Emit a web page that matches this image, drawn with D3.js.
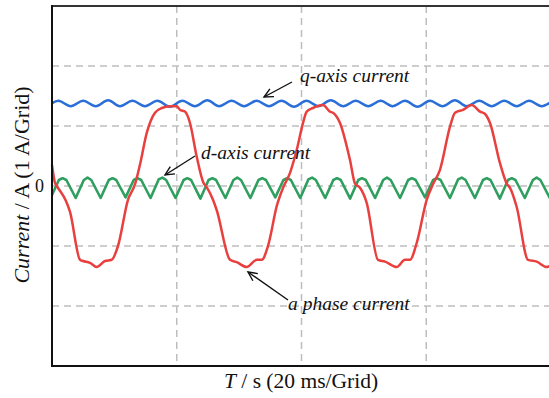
<!DOCTYPE html>
<html>
<head>
<meta charset="utf-8">
<script src="https://cdn.jsdelivr.net/npm/d3@7"></script>
<style>
  html, body { margin: 0; padding: 0; background: #fff; }
  svg { display: block; }
  text { font-family: "Liberation Serif", "DejaVu Serif", serif; fill: #111; }
</style>
</head>
<body>
<svg id="chart" width="549" height="398"></svg>
<script>
// ---------------- DATA (time in ms, current in A) ----------------
const xGridTicks = [20, 40, 60];
const yGridTicks = [-2, -1, 0, 1, 2];
const yTickLabels = [{ v: 0, label: "0" }];

const aPhaseCurrent = [
  [0,0.35],[0.48,0.05],[0.96,-0.03],[2.24,-0.25],[2.89,-0.43],[4.49,-1.23],[4.97,-1.25],[6.09,-1.28],
  [7.17,-1.35],[8.50,-1.25],[9.57,-1.23],[10.58,-1.00],[12.18,-0.23],[13.31,0.03],[14.11,0.36],
  [15.18,0.88],[16.51,1.22],[17.59,1.30],[18.92,1.33],[19.99,1.33],[20.52,1.27],[21.32,1.24],
  [22.12,1.05],[23.20,0.49],[24.26,0.06],[24.80,-0.02],[25.81,-0.23],[26.40,-0.40],[28.54,-1.23],
  [29.61,-1.27],[31.22,-1.35],[32.82,-1.23],[33.62,-1.23],[34.63,-1.00],[36.07,-0.32],[37.08,-0.02],
  [38.16,0.22],[39.23,0.60],[40.29,1.07],[40.83,1.24],[41.84,1.30],[43.45,1.35],[44.57,1.24],
  [45.05,1.22],[46.17,1.05],[47.78,0.43],[48.58,0.04],[49.38,-0.03],[50.45,-0.28],[52.26,-1.23],
  [53.39,-1.26],[55.26,-1.35],[56.59,-1.23],[57.39,-1.23],[58.47,-0.95],[60.07,-0.23],[61.08,0.03],
  [62.20,0.27],[63.81,0.99],[64.61,1.22],[65.89,1.27],[67.29,1.35],[68.62,1.24],[69.42,1.20],
  [70.22,1.05],[71.82,0.38],[72.90,0.04],[73.43,-0.03],[74.50,-0.35],[76.31,-1.23],[77.71,-1.26],
  [79.31,-1.35],[80.0,-1.32]
];

const qAxisCurrent = [
  [0,1.38],[1.0,1.42],[3.0,1.33],[5.0,1.42],[7.0,1.33],[9.0,1.43],[10.9,1.33],[12.9,1.42],
  [14.9,1.33],[16.9,1.42],[18.9,1.32],[20.9,1.42],[22.9,1.33],[24.9,1.43],[26.8,1.33],[28.8,1.42],
  [30.8,1.33],[32.8,1.42],[34.8,1.33],[36.8,1.42],[38.8,1.32],[40.8,1.42],[42.7,1.33],[44.7,1.43],
  [46.7,1.33],[48.7,1.42],[50.7,1.33],[52.7,1.42],[54.6,1.33],[56.6,1.42],[58.6,1.32],[60.6,1.42],
  [62.6,1.33],[64.6,1.43],[66.5,1.33],[68.5,1.42],[70.5,1.33],[72.5,1.42],[74.5,1.33],[76.5,1.42],
  [78.5,1.33],[80,1.40]
];

const dAxisCurrent = [
  [0,-0.15],[1.1,0.10],[1.7,0.13],[2.3,0.10],[3.8,-0.20],
  [5.1,0.10],[5.7,0.14],[6.3,0.10],[7.8,-0.20],
  [9.1,0.10],[9.7,0.13],[10.3,0.10],[11.8,-0.19],
  [13.1,0.10],[13.7,0.13],[14.3,0.10],[15.8,-0.20],
  [17.1,0.11],[17.7,0.14],[18.3,0.10],[19.8,-0.20],
  [21.1,0.10],[21.7,0.13],[22.3,0.10],[23.8,-0.21],
  [25.1,0.10],[25.7,0.13],[26.3,0.10],[27.8,-0.20],
  [29.1,0.10],[29.7,0.14],[30.3,0.10],[31.8,-0.20],
  [33.1,0.10],[33.7,0.13],[34.3,0.10],[35.8,-0.19],
  [37.1,0.10],[37.7,0.13],[38.3,0.10],[39.8,-0.20],
  [41.1,0.11],[41.7,0.14],[42.3,0.10],[43.8,-0.20],
  [45.1,0.10],[45.7,0.13],[46.3,0.10],[47.8,-0.21],
  [49.1,0.10],[49.7,0.13],[50.3,0.10],[51.8,-0.20],
  [53.1,0.10],[53.7,0.14],[54.3,0.10],[55.8,-0.20],
  [57.1,0.10],[57.7,0.13],[58.3,0.10],[59.8,-0.19],
  [61.1,0.10],[61.7,0.13],[62.3,0.10],[63.8,-0.20],
  [65.1,0.11],[65.7,0.14],[66.3,0.10],[67.8,-0.20],
  [69.1,0.10],[69.7,0.13],[70.3,0.10],[71.8,-0.21],
  [73.1,0.10],[73.7,0.13],[74.3,0.10],[75.8,-0.20],
  [77.1,0.10],[77.7,0.14],[78.3,0.10],[79.8,-0.20],[80,-0.18]
];

// ---------------- LAYOUT ----------------
const svg = d3.select("#chart");
const L = 52, T = 6, R = 551, B = 366;
const x = d3.scaleLinear().domain([0, 80]).range([L, R]);
const y = d3.scaleLinear().domain([-3, 3]).range([B, T]);

// grid
const grid = svg.append("g");
grid.selectAll("line.h").data(yGridTicks).enter().append("line")
  .attr("x1", L).attr("x2", R)
  .attr("y1", d => y(d)).attr("y2", d => y(d))
  .attr("stroke", "#bdbdbd").attr("stroke-width", 1.5).attr("stroke-dasharray", "7,5");
grid.selectAll("line.v").data(xGridTicks).enter().append("line")
  .attr("y1", T).attr("y2", B)
  .attr("x1", d => x(d)).attr("x2", d => x(d))
  .attr("stroke", "#bdbdbd").attr("stroke-width", 1.5).attr("stroke-dasharray", "7,5");

// series
const line = d3.line().x(d => x(d[0])).y(d => y(d[1]));
svg.append("path").datum(qAxisCurrent)
  .attr("d", line.curve(d3.curveMonotoneX))
  .attr("fill", "none").attr("stroke", "#2a6ed8").attr("stroke-width", 2.6);
svg.append("path").datum(dAxisCurrent)
  .attr("d", line.curve(d3.curveLinear))
  .attr("fill", "none").attr("stroke", "#2f9f5f").attr("stroke-width", 2.6).attr("stroke-linejoin", "round");
svg.append("path").datum(aPhaseCurrent)
  .attr("d", line.curve(d3.curveMonotoneX))
  .attr("fill", "none").attr("stroke", "#e8403f").attr("stroke-width", 2.5).attr("stroke-linejoin", "round");

// frame
svg.append("line").attr("x1", L).attr("x2", R).attr("y1", T).attr("y2", T)
  .attr("stroke", "#333").attr("stroke-width", 2);
svg.append("line").attr("x1", L).attr("x2", L).attr("y1", T - 1).attr("y2", B + 1)
  .attr("stroke", "#111").attr("stroke-width", 2);
svg.append("line").attr("x1", L - 1).attr("x2", R).attr("y1", B).attr("y2", B)
  .attr("stroke", "#111").attr("stroke-width", 2);

// y tick label
svg.selectAll("text.ytick").data(yTickLabels).enter().append("text")
  .attr("x", L - 8).attr("y", d => y(d.v) + 6)
  .attr("text-anchor", "end").attr("font-size", 18).text(d => d.label);

// axis titles
const yt = svg.append("text")
  .attr("transform", "translate(29,185) rotate(-90)")
  .attr("text-anchor", "middle").attr("font-size", 22);
yt.append("tspan").attr("font-style", "italic").text("Current");
yt.append("tspan").text(" / A (1 A/Grid)");

const xt = svg.append("text")
  .attr("x", 301).attr("y", 388)
  .attr("text-anchor", "middle").attr("font-size", 21.5);
xt.append("tspan").attr("font-style", "italic").text("T");
xt.append("tspan").text(" / s (20 ms/Grid)");

// annotations
function arrow(x1, y1, x2, y2) {
  const g = svg.append("g").attr("stroke", "#111").attr("stroke-width", 1.4).attr("fill", "none");
  g.append("line").attr("x1", x1).attr("y1", y1).attr("x2", x2).attr("y2", y2);
  const a = Math.atan2(y1 - y2, x1 - x2), h = 10, s = 0.45;
  g.append("path").attr("d",
    `M${x2 + h * Math.cos(a + s)},${y2 + h * Math.sin(a + s)} L${x2},${y2} L${x2 + h * Math.cos(a - s)},${y2 + h * Math.sin(a - s)}`);
}
const notes = [
  { text: "q-axis current", tx: 300, ty: 82, ax1: 292, ay1: 82, ax2: 264, ay2: 97 },
  { text: "d-axis current", tx: 201, ty: 159, ax1: 195, ay1: 156, ax2: 165, ay2: 175 },
  { text: "a phase current", tx: 288, ty: 310, ax1: 288, ay1: 300, ax2: 248, ay2: 272 }
];
notes.forEach(n => {
  svg.append("text").attr("x", n.tx).attr("y", n.ty)
    .attr("font-size", 19.5).attr("font-style", "italic").text(n.text);
  arrow(n.ax1, n.ay1, n.ax2, n.ay2);
});
</script>
</body>
</html>
